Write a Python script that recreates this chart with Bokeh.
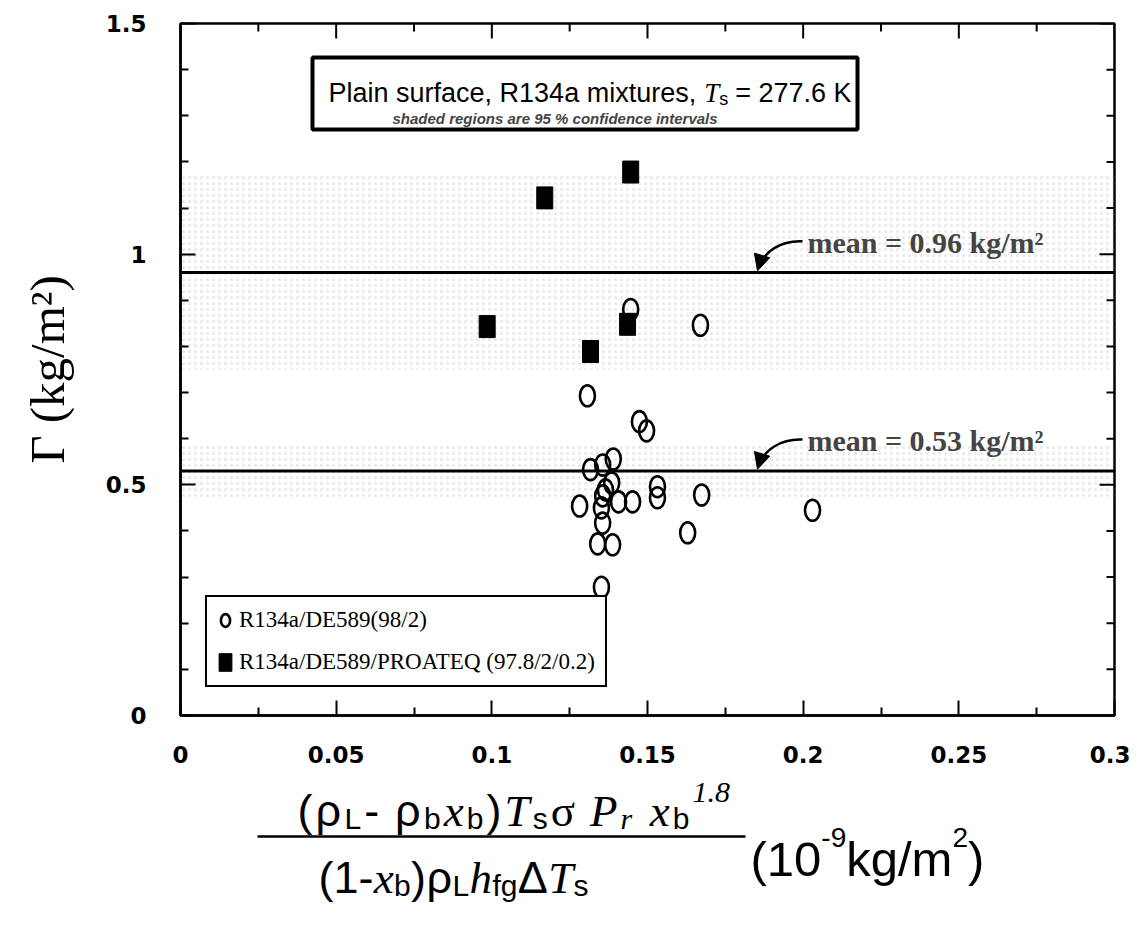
from bokeh.plotting import figure
from bokeh.layouts import column
from bokeh.models import (Range1d, FixedTicker, Span, Label, Legend,
                          LegendItem, Arrow, NormalHead, BoxAnnotation)
from bokeh.core.properties import value
from bokeh.embed import file_html
from bokeh.resources import INLINE

# ---------------- data ----------------
series_names = ["R134a/DE589(98/2)", "R134a/DE589/PROATEQ (97.8/2/0.2)"]

de589_x = [0.1307, 0.1474, 0.1497, 0.1317, 0.1356, 0.1390, 0.1385, 0.1365, 0.1356,
           0.1282, 0.1407, 0.1452, 0.1532, 0.1532, 0.1674, 0.1352, 0.1356, 0.1340,
           0.1388, 0.1629, 0.1352, 0.1446, 0.1670, 0.2030]
de589_y = [0.693, 0.637, 0.617, 0.533, 0.543, 0.556, 0.504, 0.489, 0.476,
           0.454, 0.463, 0.463, 0.496, 0.472, 0.478, 0.450, 0.417, 0.372,
           0.370, 0.396, 0.278, 0.880, 0.846, 0.445]

proateq_x = [0.0985, 0.1170, 0.1317, 0.1436, 0.1446]
proateq_y = [0.843, 1.122, 0.789, 0.848, 1.178]

mean_values = [0.96, 0.53]
mean_labels = ["mean = 0.96 kg/m²", "mean = 0.53 kg/m²"]
ci_low = [0.75, 0.47]
ci_high = [1.17, 0.59]

x_ticks = [0.0, 0.05, 0.1, 0.15, 0.2, 0.25, 0.3]
x_tick_labels = ["0", "0.05", "0.1", "0.15", "0.2", "0.25", "0.3"]
x_minor = [0.025, 0.075, 0.125, 0.175, 0.225, 0.275]
y_ticks = [0.0, 0.5, 1.0, 1.5]
y_tick_labels = ["0", "0.5", "1", "1.5"]
y_minor = [0.1, 0.2, 0.3, 0.4, 0.6, 0.7, 0.8, 0.9, 1.1, 1.2, 1.3, 1.4]

title_text = "Plain surface, R134a mixtures,"
subtitle_text = "shaded regions are 95 % confidence intervals"
y_label = "Γ (kg/m²)"

# ---------------- layout helpers ----------------
SANS = "Liberation Sans"
SERIF = "Liberation Serif"
TICKFONT = "DejaVu Sans"

SANS_W = {'(': .333, ')': .333, '-': .333, ' ': .278, '0': .556, '1': .556, '2': .556,
          '3': .556, '4': .556, '5': .556, '6': .556, '7': .556, '8': .556, '9': .556,
          '.': .278, ',': .278, '=': .584, 'k': .5, 'g': .556, '/': .278, 'm': .833,
          'L': .556, 'b': .556, 's': .5, 'f': .278, 'P': .667, 'l': .222, 'a': .556,
          'i': .222, 'n': .556, 'u': .556, 'r': .333, 'c': .5, 'e': .556, 'R': .722,
          'x': .5, 't': .278, 'K': .667, 'ρ': .575, 'σ': .6, 'Δ': .668}
SERIF_W = {'(': .333, ')': .333, '-': .333, ' ': .25, 'ρ': .5, 'σ': .55, 'Δ': .612,
           '1': .5, '.': .25, '8': .5}
SERIF_I_W = {'T': .556, 'P': .611, 'x': .444, 'h': .5, 'r': .389, '1': .5, '.': .25,
             '8': .5, ' ': .25}


def text_w(t, font, style, size):
    if font == SANS:
        table = SANS_W
    elif style == "italic":
        table = SERIF_I_W
    else:
        table = SERIF_W
    return sum(table.get(c, 0.55) for c in t) * size


W = 1130
H_MAIN = 768
H_LAB = 143
FL, FR, FT, FB = 180, 1114, 23, 715      # frame edges in canvas px
X0, X1, Y0, Y1 = 0.0, 0.3, 0.0, 1.5
PX_X = (X1 - X0) / (FR - FL)             # data units per pixel
PX_Y = (Y1 - Y0) / (FB - FT)


def px2x(px):
    return X0 + (px - FL) * PX_X


def py2y(py):
    return Y0 + (FB - py) * PX_Y


p = figure(width=W, height=H_MAIN, x_range=Range1d(X0, X1), y_range=Range1d(Y0, Y1),
           output_backend="svg", toolbar_location=None,
           min_border_left=FL, min_border_right=W - FR,
           min_border_top=FT, min_border_bottom=H_MAIN - FB)
p.background_fill_color = "white"
p.border_fill_color = "white"
p.outline_line_color = "black"
p.outline_line_width = 2.5
p.xgrid.visible = False
p.ygrid.visible = False


def place_labels(runs, start_px, base_py, gap=None):
    x = start_px
    for i, (text, font, style, size, rise) in enumerate(runs):
        p.add_layout(Label(x=px2x(x), y=py2y(base_py - rise), text=text,
                           text_font=font, text_font_style=style,
                           text_font_size=f"{size}px", text_baseline="alphabetic",
                           text_align="left", text_color="black", level="overlay"))
        x += text_w(text, font, style, size)
        if gap:
            x += gap[i]


# ---------------- shaded confidence regions ----------------
p.quad(left=[X0, X0], right=[X1, X1], bottom=ci_low, top=ci_high,
       fill_alpha=0, line_alpha=0, hatch_pattern="dot", hatch_color="#a0a0a0",
       hatch_alpha=0.25, hatch_scale=6, hatch_weight=1)

# ---------------- mean lines ----------------
for m in mean_values:
    p.add_layout(Span(location=m, dimension="width", line_color="black", line_width=3))

# ---------------- data marks ----------------
r_circ = p.ellipse(x=de589_x, y=de589_y, width=15, height=21, width_units="screen",
                   height_units="screen", fill_color=None, line_color="black",
                   line_width=2.6)
r_sq = p.rect(x=proateq_x, y=proateq_y, width=16, height=22, width_units="screen",
              height_units="screen", fill_color="black", line_color="black")

# ---------------- mean annotations ----------------
for m, lab in zip(mean_values, mean_labels):
    p.add_layout(Label(x=px2x(807), y=m + 0.066, text=lab, text_font=SERIF,
                       text_font_style="bold", text_font_size="30px",
                       text_baseline="middle", text_align="left"))
    p.bezier(x0=[px2x(802)], y0=[m + 0.068], x1=[px2x(759)], y1=[m + 0.012],
             cx0=[px2x(780)], cy0=[m + 0.07], cx1=[px2x(763)], cy1=[m + 0.045],
             line_color="black", line_width=2.5)
    p.add_layout(Arrow(end=NormalHead(size=16, fill_color="black", line_color="black"),
                       x_start=px2x(762), y_start=m + 0.04, x_end=px2x(757),
                       y_end=m + 0.004, line_alpha=0))

# ---------------- title box ----------------
p.add_layout(BoxAnnotation(left=px2x(312), right=px2x(857), top=py2y(57),
                           bottom=py2y(129), fill_color="white", fill_alpha=1,
                           line_color="black", line_alpha=1, line_width=4,
                           level="overlay"))
place_labels([(title_text, SANS, "normal", 27, 0),
              ("T", SERIF, "italic", 27, 0),
              ("s", SANS, "normal", 18, -6),
              ("= 277.6 K", SANS, "normal", 27, 0)], 328, 92, gap=[8, 0, 7, 0])
p.add_layout(Label(x=px2x(392), y=py2y(118), text=subtitle_text, text_font=SANS,
                   text_font_style="bold italic", text_font_size="15px",
                   text_baseline="alphabetic", text_align="left", level="overlay"))

# ---------------- axes ----------------
xt = FixedTicker(ticks=x_ticks, minor_ticks=x_minor)
yt = FixedTicker(ticks=y_ticks, minor_ticks=y_minor)
for ax in p.xaxis:
    ax.ticker = xt
    ax.major_label_overrides = dict(zip(x_ticks, x_tick_labels))
for ax in p.yaxis:
    ax.ticker = yt
    ax.major_label_overrides = dict(zip(y_ticks, y_tick_labels))
MAJ, MIN = 15, 8
for ax in list(p.xaxis) + list(p.yaxis):
    ax.axis_line_width = 2.5
    ax.major_tick_in = MAJ
    ax.major_tick_out = 0
    ax.minor_tick_in = MIN
    ax.minor_tick_out = 0
    ax.major_tick_line_width = 2
    ax.minor_tick_line_width = 2
    ax.major_label_text_font = TICKFONT
    ax.major_label_text_font_style = "bold"
    ax.major_label_text_font_size = "23px"
    ax.major_label_text_color = "black"
p.xaxis.major_label_standoff = 30
p.yaxis.major_label_standoff = 34
p.yaxis.axis_label = y_label
p.yaxis.axis_label_text_font = SERIF
p.yaxis.axis_label_text_font_style = "normal"
p.yaxis.axis_label_text_font_size = "49px"
p.yaxis.axis_label_text_color = "black"
p.yaxis.axis_label_standoff = 28

# mirrored ticks on the top and right edges of the frame
top_x = x_ticks + x_minor
top_len = [MAJ * PX_Y] * len(x_ticks) + [MIN * PX_Y] * len(x_minor)
p.segment(x0=top_x, y0=[Y1] * len(top_x), x1=top_x,
          y1=[Y1 - L for L in top_len], line_color="black", line_width=2)
right_y = y_ticks + y_minor
right_len = [MAJ * PX_X] * len(y_ticks) + [MIN * PX_X] * len(y_minor)
p.segment(x0=[X1] * len(right_y), y0=right_y, x1=[X1 - L for L in right_len],
          y1=right_y, line_color="black", line_width=2)

# ---------------- legend ----------------
legend = Legend(items=[LegendItem(label=series_names[0], renderers=[r_circ]),
                       LegendItem(label=series_names[1], renderers=[r_sq])],
                location=(25, FB - 687), border_line_color="black",
                border_line_width=2, border_line_alpha=1,
                background_fill_color="white", background_fill_alpha=1,
                label_text_font=SERIF, label_text_font_size="23px",
                label_text_color="black",
                glyph_width=16, glyph_height=22, label_standoff=6, padding=10,
                spacing=16, margin=0, label_height=24)
p.add_layout(legend)

# ---------------- x-axis formula label (strip below the plot) ----------------
# the column layout aligns this strip's frame with the main frame (FL..FR),
# so the strip's x range is expressed in canvas pixels FL..FR
f2 = figure(width=W, height=H_LAB, x_range=Range1d(FL, FR),
            y_range=Range1d(H_MAIN + H_LAB, H_MAIN), x_axis_type=None,
            y_axis_type=None, output_backend="svg", toolbar_location=None,
            min_border_left=FL, min_border_right=W - FR, min_border_top=0,
            min_border_bottom=0)
f2.outline_line_color = None
f2.background_fill_color = "white"
f2.border_fill_color = "white"


def place_runs(runs, start_px, base_py, target_w=None):
    widths = [text_w(t, f, s, z) for t, f, s, z, r in runs]
    extra = 0.0
    if target_w is not None and len(runs) > 1:
        extra = max(0.0, (target_w - sum(widths)) / (len(runs) - 1))
    x = start_px
    for (text, font, style, size, rise), w in zip(runs, widths):
        f2.text(x=[x], y=[base_py - rise], text=[text], text_font=value(font),
                text_font_style=value(style), text_font_size=value(f"{size}px"),
                text_baseline="alphabetic", text_align="left", text_color="black")
        x += w + extra


NUM, SUB = 45, 30
numerator = [("(", SANS, "normal", NUM, 0), ("ρ", SANS, "normal", NUM, 0),
             ("L", SANS, "normal", SUB, -8), ("- ", SANS, "normal", NUM, 0),
             ("ρ", SANS, "normal", NUM, 0), ("b", SANS, "normal", SUB, -8),
             ("x", SERIF, "italic", NUM, 0), ("b", SANS, "normal", SUB, -8),
             (")", SANS, "normal", NUM, 0), ("T", SERIF, "italic", NUM, 0),
             ("s", SANS, "normal", SUB, -8), ("σ ", SERIF, "normal", NUM, 0),
             ("P", SERIF, "italic", NUM, 0), ("r", SERIF, "italic", SUB, -8),
             (" ", SERIF, "italic", NUM, 0), ("x", SERIF, "italic", NUM, 0),
             ("b", SANS, "normal", SUB, -8), (" 1.8", SERIF, "italic", SUB, 19)]
denominator = [("(1-", SANS, "normal", NUM, 0), ("x", SERIF, "italic", NUM, 0),
               ("b", SANS, "normal", SUB, -8), (")", SANS, "normal", NUM, 0),
               ("ρ", SANS, "normal", NUM, 0), ("L", SANS, "normal", SUB, -8),
               ("h", SERIF, "italic", NUM, 0), ("fg", SANS, "normal", SUB, -8),
               ("Δ", SANS, "normal", NUM, 0), ("T", SERIF, "italic", NUM, 0),
               ("s", SANS, "normal", SUB, -8)]
units = [("(10", SANS, "normal", 49, 0), ("-9", SANS, "normal", 28, 21),
         ("kg/m", SANS, "normal", 49, 0), ("2", SANS, "normal", 28, 21),
         (")", SANS, "normal", 49, 0)]

place_runs(numerator, 297, 810, 440)
place_runs(denominator, 318, 877, 270)
place_runs(units, 750, 858)
f2.segment(x0=[257], y0=[836], x1=[745], y1=[836], line_color="black", line_width=2.5)

layout = column(p, f2, spacing=0)
open("out.html", "w").write(file_html(layout, INLINE))
